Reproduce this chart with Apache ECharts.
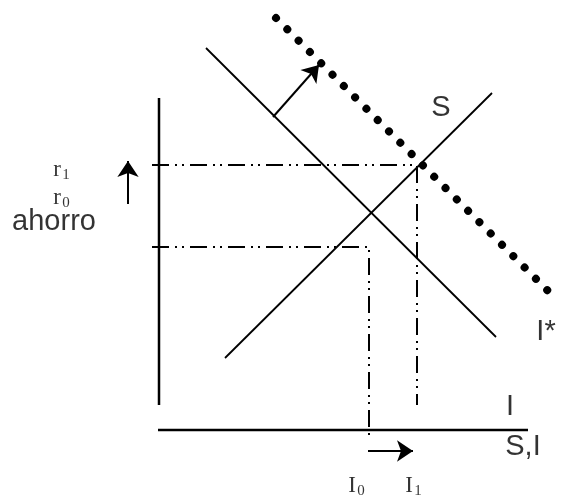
<!DOCTYPE html>
<html>
<head>
<meta charset="utf-8">
<script src="https://cdn.jsdelivr.net/npm/echarts@6/dist/echarts.min.js"></script>
<style>
  html, body { margin: 0; padding: 0; background: #fff; }
  #main { width: 562px; height: 500px; }
</style>
</head>
<body>
<div id="main"></div>
<script>
// diagram units: origin where the two axes meet, 1 unit = 10px
var r1 = 26.5, r0 = 18.3;
var I0 = 21, I1 = 25.8;

var axisV = [[0, 33.2], [0, 2.5]];
var axisH = [[-0.1, 0], [36.9, 0]];
var curveS = [[6.6, 7.2], [33.3, 33.7]];
var curveI = [[4.7, 38.2], [33.7, 9.3]];
var curveIstar = [[11.7, 41.2], [39.9, 12.9]];

var guideR1 = [[-0.7, r1], [I1, r1], [I1, 2.5]];
var guideR0 = [[-0.7, r0], [I0, r0], [I0, -1]];

var arrows = [
    [[11.4, 31.3], [16.0, 36.5]],
    [[-3.1, 22.6], [-3.1, 26.9]],
    [[20.9, -2.1], [25.4, -2.1]]
];

var sansLabels = [
    {name: 'ahorro', value: [-10.5, 20.8]},
    {name: 'S', value: [28.2, 32.2]},
    {name: 'I*', value: [38.7, 9.8]},
    {name: 'I', value: [35.1, 2.3]},
    {name: 'S,I', value: [36.4, -1.7]}
];
// r1, r0 on the left; I0, I1 under the horizontal axis
var subLabels = [
    {name: 'r', sub: '1', value: [-10.2, 26.0]},
    {name: 'r', sub: '0', value: [-10.2, 23.2]},
    {name: 'I', sub: '0', value: [19.3, -5.6]},
    {name: 'I', sub: '1', value: [25.0, -5.6]}
];

var dashDot = [17, 6, 2, 5, 2, 6];

function seg(data, style) {
    return {
        type: 'line',
        data: data,
        showSymbol: false,
        silent: true,
        animation: false,
        lineStyle: Object.assign({color: '#000', width: 2}, style)
    };
}

function textLayer(data, label) {
    return {
        type: 'scatter',
        symbolSize: 0,
        silent: true,
        animation: false,
        data: data,
        label: Object.assign({show: true, position: 'inside', color: '#000'}, label)
    };
}

var chart = echarts.init(document.getElementById('main'));

var series = [
    seg(axisV, {width: 2.5}),
    seg(axisH, {width: 2.5}),
    seg(guideR1, {type: dashDot}),
    seg(guideR0, {type: dashDot}),
    seg(curveS, {width: 1.8}),
    seg(curveI, {width: 1.8}),
    seg(curveIstar, {width: 8, type: [0.01, 16], cap: 'round'}),
    {
        type: 'lines',
        coordinateSystem: 'cartesian2d',
        silent: true,
        animation: false,
        symbol: ['none', 'arrow'],
        symbolSize: 16,
        lineStyle: {color: '#000', width: 2, opacity: 1},
        data: arrows.map(function (a) { return {coords: a}; })
    },
    textLayer(sansLabels, {
        formatter: '{b}', fontFamily: 'Liberation Sans', fontSize: 29
    }),
    textLayer(subLabels, {
        formatter: function (p) { return p.data.name; },
        fontFamily: 'Liberation Serif', fontSize: 23
    }),
    textLayer(subLabels, {
        formatter: function (p) { return p.data.sub; },
        fontFamily: 'Liberation Serif', fontSize: 15, offset: [9, 5]
    })
];

chart.setOption({
    animation: false,
    grid: {left: 0, right: 0, top: 0, bottom: 0},
    xAxis: {type: 'value', min: -15.9, max: 40.3, show: false},
    yAxis: {type: 'value', min: -7, max: 43, show: false},
    series: series
});
</script>
</body>
</html>
